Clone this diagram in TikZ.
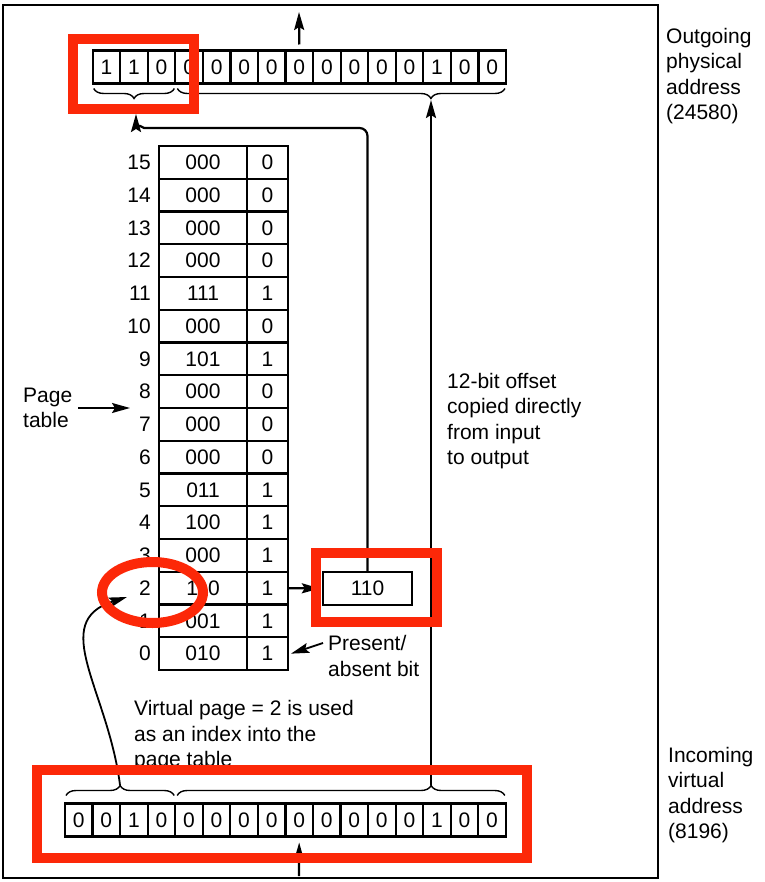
\documentclass[tikz,border=0pt]{standalone}
\usepackage{fontspec}
\setmainfont{Liberation Sans}
\usetikzlibrary{arrows.meta,positioning,calc,decorations.pathreplacing}
\definecolor{markred}{RGB}{252,40,8}

\begin{document}
\begin{tikzpicture}[
      x=1pt, y=-1pt,
      every node/.style={font=\fontsize{21}{25.5}\selectfont, inner sep=0pt},
      bitcell/.style={rectangle, draw, line width=2.2pt, outer sep=0pt,
                      minimum width=27.55pt, minimum height=33pt},
      ptcell/.style={rectangle, draw, line width=2.4pt, outer sep=0pt,
                     minimum height=32.75pt},
      sidetext/.style={align=left, anchor=west},
      arr/.style={-{Stealth[length=18pt, width=10pt, inset=3pt]}, line width=2.2pt},
      brc/.style={decorate, decoration={brace, amplitude=10pt}, line width=1.4pt},
      redmark/.style={draw=markred, line width=10pt},
    ]
    \useasboundingbox (0,0) rectangle (764,882);

    % Frame
    \draw[line width=2.6pt] (3,5) rectangle (658,878);

    % Outgoing physical address
    \foreach \b [count=\i] in {1,1,0,0,0,0,0,0,0,0,0,0,1,0,0}
      \node[bitcell] (pa\i) at ({92.7+(\i-0.5)*27.55}, 67) {\b};

    % Incoming virtual address
    \foreach \b [count=\i] in {0,0,1,0,0,0,0,0,0,0,0,0,0,1,0,0}
      \node[bitcell] (va\i) at ({65+(\i-0.5)*27.55}, 820) {\b};

    % Page table
    \foreach \r/\f/\p in {15/000/0, 14/000/0, 13/000/0, 12/000/0, 11/111/1,
                          10/000/0, 9/101/1, 8/000/0, 7/000/0, 6/000/0,
                          5/011/1, 4/100/1, 3/000/1, 2/110/1, 1/001/1, 0/010/1}{
      \node[ptcell, minimum width=88pt] (fr\r) at (203, {162.4+(15-\r)*32.75}) {\f};
      \node[ptcell, minimum width=41pt, right=0pt of fr\r] (pb\r) {\p};
      \node[left=8pt of fr\r] (ix\r) {\r};
    }

    % Frame number
    \node[rectangle, draw, line width=2.4pt, minimum width=89pt,
          minimum height=33pt] (f110) at (367.5, 588.5) {110};

    % Braces
    \draw[brc] ($(pa3.south east)+(-1,5)$) -- ($(pa1.south west)+(1,5)$);
    \draw[brc, decoration={aspect=0.226}] ($(pa15.south east)+(-1,5)$) -- ($(pa4.south west)+(2,5)$);
    \draw[brc] ($(va1.north west)+(1,-8)$) -- ($(va4.north east)+(-1,-8)$);
    \draw[brc, decoration={aspect=0.775}] ($(va5.north west)+(2,-8)$) -- ($(va16.north east)+(-1,-8)$);

    \coordinate (ptipA) at (136,114);
    \coordinate (ptipB) at (431,100);
    \coordinate (vtipA) at (120,785);
    \coordinate (vtipB) at (431,785);
    \coordinate (outtop) at (299,12);
    \coordinate (inbot) at (299,876);
    \coordinate (ixtip) at (127,597);
    \coordinate (ptend) at (130,408);

    % Arrows
    \draw[arr] ($(pa8.north)+(0,-6)$) -- (outtop);
    \draw[arr] (inbot) -- ($(va9.south)+(0,6)$);
    \draw[arr] (vtipB) -- (ptipB);
    \draw[arr, rounded corners=8pt] (f110.north) |- (152,128) to[out=180, in=-90] (ptipA);
    \draw[arr] (pb2.east) -- ([xshift=-2pt]f110.west);
    \draw[arr, line width=1.8pt] (vtipA) .. controls (108,690) and (48,622) .. (ixtip);

    % Texts
    \node[sidetext] (ptlabel) at (23,408) {Page\\table};
    \draw[arr, line width=1.8pt] ([xshift=6pt]ptlabel.east) -- (ptend);

    \node[sidetext] (present) at (328,656) {Present/\\absent bit};
    \draw[arr, line width=1.8pt] ([shift={(-5,-13)}]present.west) -- ([xshift=3pt]pb0.east);

    \node[sidetext] (offsettext) at (447,421) {12-bit offset\\copied directly\\from input\\to output};
    \node[sidetext] (vptext) at (134,736) {Virtual page = 2 is used\\as an index into the\\page table};
    \node[sidetext] (outlabel) at (666,76) {Outgoing\\physical\\address\\(24580)};
    \node[sidetext] (inlabel) at (668,795) {Incoming\\virtual\\address\\(8196)};

    % Highlights
    \draw[redmark] (73,39) rectangle (194,109);
    \draw[redmark] (316,553) rectangle (437,622);
    \draw[redmark] (37,770) rectangle (527,858);
    \draw[redmark] (152.5,592.5) ellipse [x radius=50.5, y radius=30.5];
  \end{tikzpicture}
\end{document}
